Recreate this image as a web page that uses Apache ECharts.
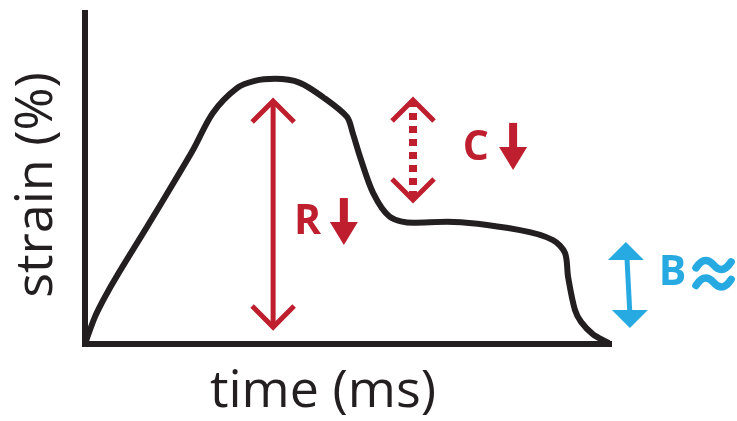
<!DOCTYPE html>
<html>
<head>
<meta charset="utf-8">
<script src="https://cdn.jsdelivr.net/npm/echarts@6/dist/echarts.min.js"></script>
<style>
  html, body { margin: 0; padding: 0; background: #fff; }
  #chart { width: 737px; height: 421px; }
</style>
</head>
<body>
<div id="chart"></div>
<script>
// strain curve, arbitrary units (time 0-100, strain 0-100)
var time   = [0, 1.9, 3.8, 6.3, 11.8, 17.2, 20.6, 24.4, 29.0, 32.4, 36.3, 41.0, 45.4, 50.0, 51.1, 52.5, 55.0, 58.2, 62.6, 69.1, 83.0, 89.3, 91.6, 92.2, 93.5, 94.7, 96.9, 99.2, 100];
var strain = [0, 8.2, 14.2, 21.1, 35.3, 49.5, 58.6, 69.8, 77.3, 79.5, 80.1, 78.9, 74.6, 68.6, 63.7, 56.5, 45.6, 38.4, 36.6, 36.9, 34.4, 31.4, 27.5, 20.2, 10.3, 6.6, 3.0, 0.9, 0.3];

// double arrows: R (reservoir), C (conduit), B (booster)
var arrowNames  = ['R', 'C', 'B'];
var arrowX      = [35.9, 62.6, 103.6];
var arrowTop    = [74.3, 74.6, 30.8];
var arrowBottom = [4.2, 42.6, 4.8];

// labels next to the arrows
var labelText = ['R', 'C', 'B'];
var labelX    = [39.9, 72.1, 109.5];
var labelY    = [36.8, 59.2, 21.5];

// "decreased" arrows after R and C
var downX   = [49.4, 81.7];
var downTop = [44.1, 66.8];
var downTip = [29.9, 52.6];

// "approximately equal" sign after B
var approxX0 = [116.6];
var approxX1 = [123.3];
var approxY  = [23.9, 18.6];

var RED = '#be1e2d';
var BLUE = '#27aae1';
var INK = '#231f20';
var FONT = '"Open Sans", "Noto Sans", sans-serif';

var chart = echarts.init(document.getElementById('chart'));

function renderDouble(params, api) {
  var i = params.dataIndex;
  var p1 = api.coord([api.value(0), api.value(1)]);
  var p2 = api.coord([api.value(0), api.value(2)]);
  var cx = p1[0], top = p1[1], bot = p2[1];
  var kids = [];
  if (arrowNames[i] === 'B') {
    kids.push({ type: 'line', shape: { x1: cx - 1, y1: top + 14, x2: cx + 2, y2: bot - 14 },
      style: { stroke: BLUE, lineWidth: 5 } });
    kids.push({ type: 'polygon', shape: { points: [[cx - 2, top], [cx - 20, top + 18], [cx + 16, top + 18]] },
      style: { fill: BLUE } });
    kids.push({ type: 'polygon', shape: { points: [[cx + 2, bot], [cx - 16, bot - 18], [cx + 20, bot - 18]] },
      style: { fill: BLUE } });
    return { type: 'group', children: kids };
  }
  var dashed = arrowNames[i] === 'C';
  kids.push({ type: 'line', shape: { x1: cx, y1: top + 3, x2: cx, y2: bot - 3 },
    style: { stroke: RED, lineWidth: dashed ? 8 : 5, lineDash: dashed ? [7, 6] : null } });
  kids.push({ type: 'polyline', shape: { points: [[cx - 21, top + 24], [cx, top + 3], [cx + 21, top + 24]] },
    style: { stroke: RED, lineWidth: 5, fill: null, lineJoin: 'miter' } });
  kids.push({ type: 'polyline', shape: { points: [[cx - 21, bot - 24], [cx, bot - 3], [cx + 21, bot - 24]] },
    style: { stroke: RED, lineWidth: 5, fill: null, lineJoin: 'miter' } });
  return { type: 'group', children: kids };
}

function renderDown(params, api) {
  var a = api.coord([api.value(0), api.value(1)]);
  var b = api.coord([api.value(0), api.value(2)]);
  var cx = a[0], top = a[1], tip = b[1];
  var headTop = tip - 23;
  return { type: 'group', children: [
    { type: 'rect', shape: { x: cx - 4, y: top, width: 8, height: headTop - top + 1 }, style: { fill: RED } },
    { type: 'polygon', shape: { points: [[cx - 14, headTop], [cx + 14, headTop], [cx, tip]] }, style: { fill: RED } }
  ] };
}

function renderLabel(params, api) {
  var p = api.coord([api.value(0), api.value(1)]);
  var i = params.dataIndex;
  return { type: 'text', x: p[0], y: p[1], style: {
    text: labelText[i], fill: labelText[i] === 'B' ? BLUE : RED,
    font: 'bold 41px ' + FONT, align: 'left', verticalAlign: 'middle'
  } };
}

function renderApprox(params, api) {
  var kids = [];
  for (var k = 0; k < approxY.length; k++) {
    var a = api.coord([api.value(0), approxY[k]]);
    var b = api.coord([api.value(1), approxY[k]]);
    var x0 = a[0], x1 = b[0], y = a[1], w = x1 - x0;
    kids.push({ type: 'path', shape: {
      pathData: 'M' + x0 + ' ' + (y + 3) +
        ' C' + (x0 + w * 0.2) + ' ' + (y - 8) + ' ' + (x0 + w * 0.38) + ' ' + (y - 5) + ' ' + (x0 + w * 0.5) + ' ' + y +
        ' S' + (x0 + w * 0.8) + ' ' + (y + 8) + ' ' + x1 + ' ' + (y - 3)
    }, style: { stroke: BLUE, lineWidth: 7.5, fill: null, lineCap: 'round' } });
  }
  return { type: 'group', children: kids };
}

var axisCommon = {
  type: 'value', min: 0, max: 100,
  axisLine: { show: true, lineStyle: { color: INK, width: 6, cap: 'square' } },
  axisTick: { show: false }, axisLabel: { show: false }, splitLine: { show: false }
};

chart.setOption({
  animation: false,
  backgroundColor: '#fff',
  grid: { left: 85, right: 128, top: 13, bottom: 77 },
  xAxis: axisCommon,
  yAxis: axisCommon,
  graphic: [
    { type: 'text', x: 37, y: 185, rotation: Math.PI / 2,
      style: { text: 'strain (%)', fill: INK, font: '52px ' + FONT, align: 'center', verticalAlign: 'middle' } },
    { type: 'text', x: 323, y: 392,
      style: { text: 'time (ms)', fill: INK, font: '52px ' + FONT, align: 'center', verticalAlign: 'middle' } }
  ],
  series: [
    { type: 'line', data: time.map(function (t, i) { return [t, strain[i]]; }),
      smooth: 0.3, showSymbol: false, lineStyle: { color: INK, width: 6 }, z: 3 },
    { type: 'custom', clip: false, renderItem: renderDouble,
      data: arrowX.map(function (x, i) { return [x, arrowTop[i], arrowBottom[i]]; }) },
    { type: 'custom', clip: false, renderItem: renderDown,
      data: downX.map(function (x, i) { return [x, downTop[i], downTip[i]]; }) },
    { type: 'custom', clip: false, renderItem: renderLabel,
      data: labelX.map(function (x, i) { return [x, labelY[i]]; }) },
    { type: 'custom', clip: false, renderItem: renderApprox,
      data: approxX0.map(function (x, i) { return [x, approxX1[i]]; }) }
  ]
});
</script>
</body>
</html>
